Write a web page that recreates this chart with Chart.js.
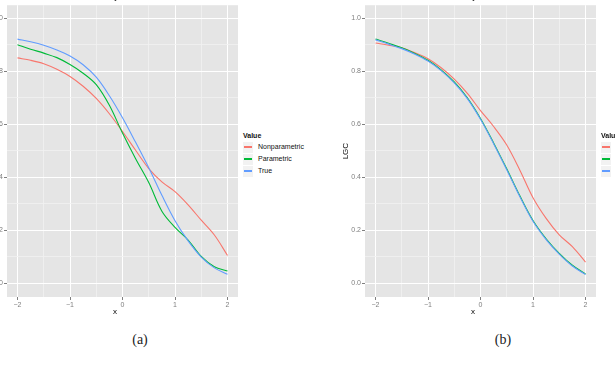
<!DOCTYPE html>
<html>
<head>
<meta charset="utf-8">
<script src="https://cdn.jsdelivr.net/npm/chart.js@4"></script>
<style>
body { margin:0; width:615px; height:374px; background:#fff; overflow:hidden; position:relative; font-family:"Liberation Sans", Arial, sans-serif; }
.panel { position:absolute; top:0; height:318px; }
.txt { position:absolute; white-space:nowrap; color:#000; }
.ttl { font-size:9px; top:-9px; transform:translateX(-50%); }
.xlab { font-size:8px; top:307px; transform:translateX(-50%); }
.cap { font-family:"Liberation Serif", "DejaVu Serif", serif; font-size:14px; top:332px; transform:translateX(-50%); color:#222; }
.legend { position:absolute; top:131px; font-size:7px; color:#111; }
.legend .head { font-weight:bold; height:10px; line-height:9px; }
.legend .item { height:12px; line-height:12px; display:flex; align-items:center; }
.legend .key { width:10px; height:11px; background:#F2F2F2; margin-right:5px; display:flex; align-items:center; justify-content:center; }
.legend .line { width:8px; height:1.5px; }
</style>
</head>
<body>
<div class="panel" style="left:-28px; width:268px;"><canvas id="chartA" width="268" height="318"></canvas></div>
<div class="panel" style="left:330px; width:285px;"><canvas id="chartB" width="285" height="318"></canvas></div>

<div class="txt ttl" style="left:117px;">Dayton</div>
<div class="txt ttl" style="left:475px;">Dayton</div>
<div class="txt xlab" style="left:115px;">x</div>
<div class="txt xlab" style="left:473px;">x</div>
<div class="txt cap" style="left:140px;">(a)</div>
<div class="txt cap" style="left:503px;">(b)</div>
<div class="legend" id="legendA" style="left:243px;"></div>
<div class="legend" id="legendB" style="left:601px;"></div>

<script>
// valores
const xVals = [-2, -1.75, -1.5, -1.25, -1, -0.75, -0.5, -0.25, 0, 0.25, 0.5, 0.75, 1, 1.25, 1.5, 1.75, 2]

const nonparA = [0.851, 0.842, 0.829, 0.808, 0.781, 0.744, 0.698, 0.640, 0.573, 0.502, 0.433, 0.383, 0.346, 0.296, 0.238, 0.182, 0.105]
const paramA  = [0.901, 0.884, 0.869, 0.852, 0.826, 0.793, 0.750, 0.672, 0.567, 0.470, 0.380, 0.272, 0.211, 0.163, 0.101, 0.062, 0.046]
const trueA   = [0.922, 0.912, 0.899, 0.881, 0.858, 0.825, 0.778, 0.708, 0.625, 0.532, 0.436, 0.332, 0.236, 0.160, 0.099, 0.058, 0.034]

const nonparB = [0.907, 0.899, 0.889, 0.870, 0.848, 0.814, 0.771, 0.717, 0.652, 0.592, 0.522, 0.427, 0.323, 0.245, 0.183, 0.138, 0.080]
const paramB  = [0.922, 0.906, 0.889, 0.868, 0.842, 0.806, 0.760, 0.700, 0.622, 0.530, 0.432, 0.330, 0.237, 0.168, 0.113, 0.068, 0.035]
const trueB   = [0.919, 0.903, 0.886, 0.865, 0.839, 0.803, 0.757, 0.697, 0.619, 0.527, 0.429, 0.327, 0.234, 0.165, 0.110, 0.065, 0.033]

const xTicks = [-2, -1.5, -1, -0.5, 0, 0.5, 1, 1.5, 2]
const yTicks = [0, 0.1, 0.2, 0.3, 0.4, 0.5, 0.6, 0.7, 0.8, 0.9, 1.0]

const seriesNames = ["Nonparametric", "Parametric", "True"]
const seriesColors = ["#F8766D", "#00BA38", "#619CFF"]

const isMajorX = v => Number.isInteger(v)
const isMajorY = v => Math.abs(Math.round(v * 5) - v * 5) < 1e-6

// fondo gris del panel
const panelBg = {
    id: "panelBg",
    beforeDraw(chart) {
        const a = chart.chartArea
        chart.ctx.save()
        chart.ctx.fillStyle = "#E5E5E5"
        chart.ctx.fillRect(a.left, a.top, a.right - a.left, a.bottom - a.top)
        chart.ctx.restore()
    }
}

function makeChart(id, lists, padRight) {
    // True arriba, como en ggplot
    const datasets = lists.map((vals, i) => ({
        label: seriesNames[i],
        data: xVals.map((x, j) => ({ x: x, y: vals[j] })),
        borderColor: seriesColors[i],
        borderWidth: 1.1,
        pointRadius: 0,
        fill: false,
        tension: 0.35,
        order: lists.length - i
    }))

    const tickFont = { family: "Liberation Sans", size: 7 }

    new Chart(document.getElementById(id), {
        type: "line",
        data: { datasets },
        plugins: [panelBg],
        options: {
            responsive: false,
            animation: false,
            layout: { padding: { left: 0, right: padRight, top: 3, bottom: 0 } },
            plugins: { legend: { display: false }, tooltip: { enabled: false } },
            scales: {
                x: {
                    type: "linear",
                    min: -2.2,
                    max: 2.2,
                    afterBuildTicks: s => { s.ticks = xTicks.map(v => ({ value: v })) },
                    afterFit: s => { s.height = 21 },
                    border: { display: false },
                    grid: {
                        color: c => isMajorX(c.tick.value) ? "#FFFFFF" : "#F1F1F1",
                        lineWidth: c => isMajorX(c.tick.value) ? 1 : 0.8,
                        tickColor: c => isMajorX(c.tick.value) ? "#7F7F7F" : "rgba(0,0,0,0)",
                        tickLength: 3
                    },
                    ticks: {
                        autoSkip: false,
                        maxRotation: 0,
                        padding: 1,
                        color: "#7F7F7F",
                        font: tickFont,
                        callback: v => isMajorX(v) ? String(v).replace("-", "\u2212") : ""
                    }
                },
                y: {
                    type: "linear",
                    min: -0.052,
                    max: 1.05,
                    afterBuildTicks: s => { s.ticks = yTicks.map(v => ({ value: v })) },
                    afterFit: s => { s.width = 35 },
                    border: { display: false },
                    title: {
                        display: true,
                        text: "LGC",
                        color: "#000",
                        font: { family: "Liberation Sans", size: 8 },
                        padding: { top: 11, bottom: 0 }
                    },
                    grid: {
                        color: c => isMajorY(c.tick.value) ? "#FFFFFF" : "#F1F1F1",
                        lineWidth: c => isMajorY(c.tick.value) ? 1 : 0.8,
                        tickColor: c => isMajorY(c.tick.value) ? "#7F7F7F" : "rgba(0,0,0,0)",
                        tickLength: 3
                    },
                    ticks: {
                        autoSkip: false,
                        padding: 1,
                        color: "#7F7F7F",
                        font: tickFont,
                        callback: v => isMajorY(v) ? v.toFixed(1) : ""
                    }
                }
            }
        }
    })
}

function makeLegend(id) {
    const box = document.getElementById(id)
    let html = '<div class="head">Value</div>'
    seriesNames.forEach((name, i) => {
        html += `<div class="item"><div class="key"><div class="line" style="background-color:${seriesColors[i]}"></div></div>${name}</div>`
    })
    box.innerHTML = html
}

makeChart("chartA", [nonparA, paramA, trueA], 2)
makeChart("chartB", [nonparB, paramB, trueB], 19)
makeLegend("legendA")
makeLegend("legendB")
</script>
</body>
</html>
